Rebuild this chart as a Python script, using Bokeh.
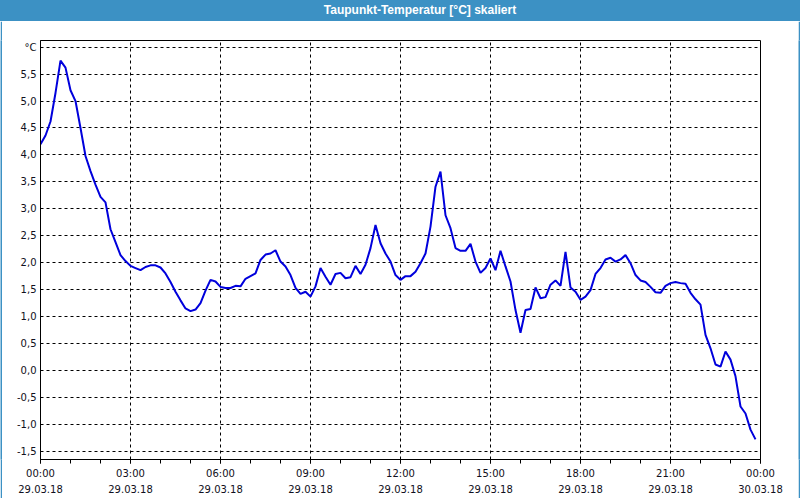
import numpy as np
import pandas as pd
from bokeh.plotting import figure
from bokeh.layouts import column, row
from bokeh.models import FixedTicker, CustomJSTickFormatter, Range1d, Div
from bokeh.embed import file_html
from bokeh.resources import INLINE

# ---------------- data ----------------
title_text = "Taupunkt-Temperatur [°C] skaliert"
start_time = "2018-03-29 00:00"
sample_step = "10min"

# dew point temperature [°C], one value every 10 minutes from 29.03.18 00:00
dewpoint = [
    4.20, 4.36, 4.62, 5.15, 5.75, 5.62, 5.20, 5.00, 4.50, 3.98,
    3.70, 3.45, 3.22, 3.12, 2.62, 2.38, 2.14, 2.03, 1.94, 1.90,
    1.86, 1.92, 1.95, 1.95, 1.91, 1.80, 1.64, 1.46, 1.30, 1.15,
    1.10, 1.13, 1.25, 1.48, 1.68, 1.65, 1.55, 1.53, 1.53, 1.57,
    1.56, 1.70, 1.75, 1.80, 2.05, 2.15, 2.17, 2.23, 2.02, 1.93,
    1.77, 1.53, 1.42, 1.46, 1.37, 1.56, 1.90, 1.74, 1.59, 1.79,
    1.81, 1.71, 1.73, 1.94, 1.79, 1.96, 2.27, 2.70, 2.36, 2.17,
    2.02, 1.77, 1.68, 1.75, 1.75, 1.83, 1.99, 2.17, 2.67, 3.41,
    3.69, 2.88, 2.64, 2.27, 2.22, 2.22, 2.35, 2.02, 1.81, 1.90,
    2.08, 1.86, 2.22, 1.93, 1.65, 1.12, 0.70, 1.12, 1.14, 1.54,
    1.34, 1.36, 1.59, 1.67, 1.57, 2.20, 1.54, 1.46, 1.31, 1.37,
    1.49, 1.79, 1.90, 2.06, 2.09, 2.02, 2.06, 2.14, 1.99, 1.77,
    1.67, 1.64, 1.55, 1.45, 1.44, 1.57, 1.62, 1.64, 1.62, 1.61,
    1.44, 1.32, 1.22, 0.66, 0.41, 0.11, 0.07, 0.35, 0.20, -0.11,
    -0.67, -0.80, -1.10, -1.28,
]

x_major_hours = [0, 3, 6, 9, 12, 15, 18, 21, 24]
x_minor_hours = [h for h in range(0, 25)]
y_ticks = [-1.5, -1.0, -0.5, 0.0, 0.5, 1.0, 1.5, 2.0, 2.5, 3.0, 3.5,
           4.0, 4.5, 5.0, 5.5, 6.0]
y_min, y_max = -1.654, 6.124

bar_blue = "#3C91C4"

# ---------------- chart ----------------
times = pd.date_range(start_time, periods=len(dewpoint), freq=sample_step)
t0 = pd.Timestamp(start_time)
t_end = t0 + pd.Timedelta(hours=24)


def ms(ts):
    return ts.value // 10**6


major_ms = [ms(t0 + pd.Timedelta(hours=h)) for h in x_major_hours]
minor_ms = [ms(t0 + pd.Timedelta(hours=h)) for h in x_minor_hours]

p = figure(width=796, height=477, output_backend="svg", toolbar_location=None,
           x_axis_type="datetime", title=None,
           x_range=Range1d(t0, t_end), y_range=Range1d(y_min, y_max),
           min_border_left=38, min_border_right=38,
           min_border_top=19, min_border_bottom=38,
           border_fill_color="white", background_fill_color="white")

p.outline_line_color = "black"
p.outline_line_width = 1
p.outline_line_alpha = 1

p.line(times, dewpoint, line_color="#0000DC", line_width=2)

tick_font = "DejaVu Sans"

xa = p.xaxis[0]
xa.ticker = FixedTicker(ticks=major_ms, minor_ticks=minor_ms)
xa.formatter = CustomJSTickFormatter(code="""
const d = new Date(tick);
const p2 = (n) => String(n).padStart(2, "0");
return p2(d.getUTCHours()) + ":" + p2(d.getUTCMinutes()) + "\\n" +
       p2(d.getUTCDate()) + "." + p2(d.getUTCMonth() + 1) + "." +
       p2(d.getUTCFullYear() % 100);
""")
xa.axis_line_color = "black"
xa.major_tick_line_color = "black"
xa.minor_tick_line_color = "black"
xa.major_tick_in = 0
xa.major_tick_out = 4
xa.minor_tick_in = 0
xa.minor_tick_out = 4
xa.major_label_standoff = 4
xa.major_label_text_font = tick_font
xa.major_label_text_font_size = "10px"
xa.major_label_text_color = "#101020"
xa.major_label_text_line_height = 1.5

ya = p.yaxis[0]
ya.ticker = FixedTicker(ticks=y_ticks)
ya.formatter = CustomJSTickFormatter(code="""
if (tick > 5.99) { return "\u00b0C"; }
return tick.toFixed(1).replace(".", ",");
""")
ya.axis_line_color = "black"
ya.major_tick_in = 0
ya.major_tick_out = 0
ya.minor_tick_line_color = None
ya.major_label_standoff = 4
ya.major_label_text_font = tick_font
ya.major_label_text_font_size = "10px"
ya.major_label_text_color = "#101020"

for g in (p.xgrid[0], p.ygrid[0]):
    g.grid_line_color = "black"
    g.grid_line_dash = "3 3"
    g.grid_line_width = 1
    g.grid_line_alpha = 1
p.xgrid[0].ticker = xa.ticker
p.ygrid[0].ticker = ya.ticker


# ---------------- title bar and window border ----------------
def strip(w, h):
    s = figure(width=w, height=h, output_backend="svg",
               toolbar_location=None, title=None,
               x_axis_location=None, y_axis_location=None,
               min_border_left=0, min_border_right=0,
               min_border_top=0, min_border_bottom=0,
               border_fill_color=bar_blue, background_fill_color=bar_blue,
               outline_line_color=None)
    s.grid.visible = False
    return s


head = Div(text=title_text, width=800, height=21, margin=0,
           styles={"background-color": bar_blue,
                   "color": "white",
                   "font-family": "'Liberation Sans', Arial, sans-serif",
                   "font-weight": "bold",
                   "font-size": "12px",
                   "text-align": "center",
                   "text-indent": "40px",
                   "line-height": "21px",
                   "white-space": "nowrap",
                   "overflow": "hidden"})

layout = column(head,
                row(strip(2, 477), p, strip(2, 477)),
                strip(800, 2))

open("out.html", "w").write(file_html(layout, INLINE))
